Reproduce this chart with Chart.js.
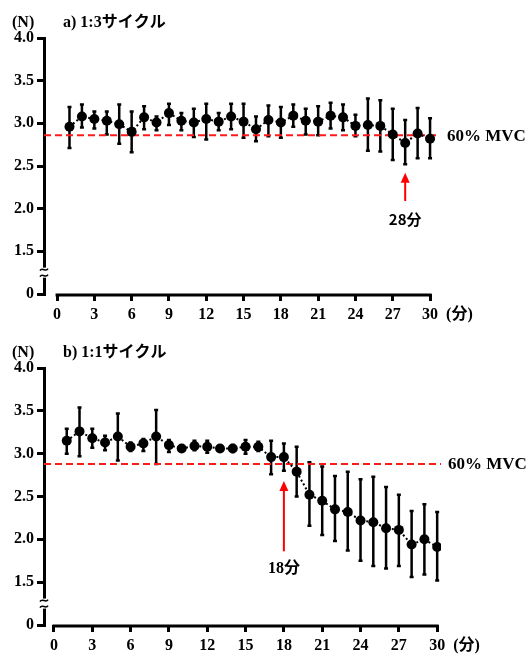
<!DOCTYPE html>
<html>
<head>
<meta charset="utf-8">
<script src="https://cdn.jsdelivr.net/npm/chart.js@4"></script>
<style>
  body { margin: 0; background: #fff; }
  .box { position: absolute; left: 0; width: 529px; }
  #boxA { top: 0; height: 330px; }
  #boxB { top: 330px; height: 327px; }
</style>
</head>
<body>
<div class="box" id="boxA"><canvas id="chartA"></canvas></div>
<div class="box" id="boxB"><canvas id="chartB"></canvas></div>
<script>
// minutes 1..30
const minutes = [1,2,3,4,5,6,7,8,9,10,11,12,13,14,15,16,17,18,19,20,21,22,23,24,25,26,27,28,29,30];
const xTicks = [0,3,6,9,12,15,18,21,24,27,30];
const yTicks = [1.0,1.5,2.0,2.5,3.0,3.5,4.0]; // 1.0 is shown as "0" (broken axis)

// a) 1:3 cycle
const aMean = [2.96,3.08,3.05,3.03,2.99,2.90,3.07,3.01,3.12,3.03,3.01,3.05,3.02,3.08,3.02,2.93,3.04,3.01,3.09,3.03,3.02,3.09,3.07,2.97,2.98,2.97,2.87,2.77,2.88,2.82];
const aHi   = [3.19,3.22,3.14,3.14,3.22,3.14,3.20,3.08,3.23,3.12,3.17,3.23,3.12,3.23,3.23,3.08,3.21,3.19,3.22,3.17,3.20,3.24,3.22,3.10,3.29,3.27,3.17,3.04,3.18,3.06];
const aLo   = [2.71,2.95,2.94,2.87,2.76,2.66,2.93,2.92,2.98,2.92,2.84,2.81,2.92,2.93,2.83,2.79,2.85,2.83,2.96,2.87,2.86,2.94,2.92,2.85,2.68,2.67,2.57,2.52,2.59,2.59];
const aMvc = 2.86;

// b) 1:1 cycle
const bMean = [3.15,3.26,3.18,3.13,3.20,3.08,3.12,3.20,3.10,3.06,3.09,3.08,3.06,3.06,3.08,3.08,2.96,2.96,2.79,2.52,2.45,2.35,2.32,2.22,2.20,2.13,2.11,1.94,2.00,1.91];
const bHi   = [3.29,3.54,3.29,3.21,3.47,3.13,3.17,3.51,3.16,3.08,3.15,3.15,3.07,3.10,3.16,3.14,3.15,3.12,3.08,2.90,2.85,2.74,2.79,2.70,2.73,2.61,2.52,2.33,2.41,2.32];
const bLo   = [3.00,2.97,3.07,3.04,2.92,3.03,3.03,2.88,3.02,3.04,3.04,3.01,3.05,3.02,3.00,3.03,2.76,2.80,2.50,2.16,2.05,1.98,1.87,1.75,1.69,1.66,1.69,1.56,1.59,1.52];
const bMvc = 2.88;

const serifB = "bold 16px 'Liberation Serif', 'Times New Roman', 'Noto Sans CJK JP', serif";

function makeChart(id, o) {
    const pts = minutes.map((m, i) => ({x: m, y: o.mean[i]}));
    const mvcLine = [{x: o.xMin, y: o.mvc}, {x: o.xMax, y: o.mvc}];

    const extras = {
        id: "extras",
        beforeDatasetsDraw(chart) {
            const ctx = chart.ctx, xs = chart.scales.x, ys = chart.scales.y;
            ctx.save();
            ctx.strokeStyle = "#000";
            ctx.lineWidth = 2.5;
            for (let i = 0; i < minutes.length; i++) {
                const x = xs.getPixelForValue(minutes[i]);
                const y1 = ys.getPixelForValue(o.hi[i]);
                const y2 = ys.getPixelForValue(o.lo[i]);
                ctx.beginPath();
                ctx.moveTo(x, y1); ctx.lineTo(x, y2);
                ctx.moveTo(x - 2, y1); ctx.lineTo(x + 2, y1);
                ctx.moveTo(x - 2, y2); ctx.lineTo(x + 2, y2);
                ctx.stroke();
            }
            ctx.restore();
        },
        afterDraw(chart) {
            const ctx = chart.ctx, xs = chart.scales.x, ys = chart.scales.y;
            const area = chart.chartArea;
            ctx.save();
            // x axis line, from 0 to 30 only
            ctx.strokeStyle = "#000";
            ctx.lineWidth = 3;
            ctx.beginPath();
            ctx.moveTo(xs.getPixelForValue(0) - 1.5, area.bottom + 1);
            ctx.lineTo(xs.getPixelForValue(30) + 1.5, area.bottom + 1);
            ctx.stroke();

            // break mark on the y axis
            const yb = ys.getPixelForValue(1.25);
            const xl = area.left;
            ctx.fillStyle = "#fff";
            ctx.fillRect(xl - 3, yb - 5, 6, 10);
            ctx.lineWidth = 1.5;
            ctx.beginPath();
            [-3, 3].forEach(d => {
                ctx.moveTo(xl - 4, yb + d + 1);
                ctx.bezierCurveTo(xl - 2, yb + d - 3, xl + 2, yb + d + 3, xl + 4, yb + d - 1);
            });
            ctx.stroke();

            ctx.fillStyle = "#000";
            ctx.font = serifB;
            ctx.textBaseline = "middle";
            ctx.textAlign = "left";
            ctx.fillText("(N)", 12, 23);
            ctx.fillText(o.title, 63, 23);
            ctx.fillText("(分)", xs.getPixelForValue(30) + 16, area.bottom + 21);
            ctx.font = "bold 17px 'Liberation Serif', 'Times New Roman', serif";
            ctx.fillText("60% MVC", area.right + 7, ys.getPixelForValue(o.mvc) + 1);

            // red arrow
            const ax = xs.getPixelForValue(o.arrowAt);
            const yt = ys.getPixelForValue(o.arrowTop);
            const yB = ys.getPixelForValue(o.arrowBottom);
            ctx.strokeStyle = "#ff0000";
            ctx.fillStyle = "#ff0000";
            ctx.lineWidth = 2;
            ctx.beginPath();
            ctx.moveTo(ax, yt + 6); ctx.lineTo(ax, yB);
            ctx.stroke();
            ctx.beginPath();
            ctx.moveTo(ax, yt); ctx.lineTo(ax - 4.5, yt + 10); ctx.lineTo(ax + 4.5, yt + 10);
            ctx.closePath();
            ctx.fill();

            ctx.fillStyle = "#000";
            ctx.font = o.arrowFont;
            ctx.textAlign = "center";
            ctx.fillText(o.arrowLabel, ax, ys.getPixelForValue(o.arrowText));
            ctx.restore();
        }
    };

    return new Chart(document.getElementById(id), {
        type: "line",
        data: {
            datasets: [{
                data: pts,
                borderColor: "#000",
                borderWidth: 2,
                borderDash: [2, 2.5],
                pointRadius: 5,
                pointBackgroundColor: "#000",
                pointBorderColor: "#000",
                pointBorderWidth: 0,
                order: 0
            }, {
                data: mvcLine,
                borderColor: "#ff1a1a",
                borderWidth: 2,
                borderDash: [7, 4],
                pointRadius: 0,
                order: 1
            }]
        },
        options: {
            responsive: true,
            maintainAspectRatio: false,
            animation: false,
            layout: { padding: { left: 0, right: o.padRight, top: 38, bottom: 0 } },
            plugins: { legend: { display: false }, tooltip: { enabled: false } },
            scales: {
                x: {
                    type: "linear",
                    min: o.xMin,
                    max: o.xMax,
                    afterBuildTicks: s => { s.ticks = xTicks.map(v => ({value: v})); },
                    afterFit: s => { s.height = o.h - 38 - o.plotH; },
                    border: { display: false },
                    grid: { drawOnChartArea: false, drawTicks: true, tickLength: 7, lineWidth: 3, color: "#000" },
                    ticks: { color: "#000", padding: 4, maxRotation: 0, font: { family: "'Liberation Serif', 'Times New Roman', serif", size: 16, weight: "bold" } }
                },
                y: {
                    min: 1,
                    max: 4,
                    afterBuildTicks: s => { s.ticks = yTicks.map(v => ({value: v})); },
                    afterFit: s => { s.width = 44; },
                    border: { display: true, width: 3, color: "#000" },
                    grid: { drawOnChartArea: false, drawTicks: true, tickLength: 7, lineWidth: 3, color: "#000" },
                    ticks: {
                        color: "#000",
                        padding: 3,
                        font: { family: "'Liberation Serif', 'Times New Roman', serif", size: 16, weight: "bold" },
                        callback: v => v == 1 ? "0" : v.toFixed(1)
                    }
                }
            }
        },
        plugins: [extras]
    });
}

makeChart("chartA", {
    title: "a) 1:3サイクル",
    mean: aMean, hi: aHi, lo: aLo, mvc: aMvc,
    xMin: -1.05, xMax: 30.8, padRight: 89, h: 330, plotH: 256,
    arrowAt: 28, arrowTop: 2.42, arrowBottom: 2.09, arrowText: 1.88,
    arrowLabel: "28分", arrowFont: "bold 15px 'Noto Sans CJK JP', sans-serif"
});

makeChart("chartB", {
    title: "b) 1:1サイクル",
    mean: bMean, hi: bHi, lo: bLo, mvc: bMvc,
    xMin: -0.78, xMax: 30.3, padRight: 88, h: 327, plotH: 257,
    arrowAt: 18, arrowTop: 2.68, arrowBottom: 1.86, arrowText: 1.65,
    arrowLabel: "18分", arrowFont: serifB
});
</script>
</body>
</html>
